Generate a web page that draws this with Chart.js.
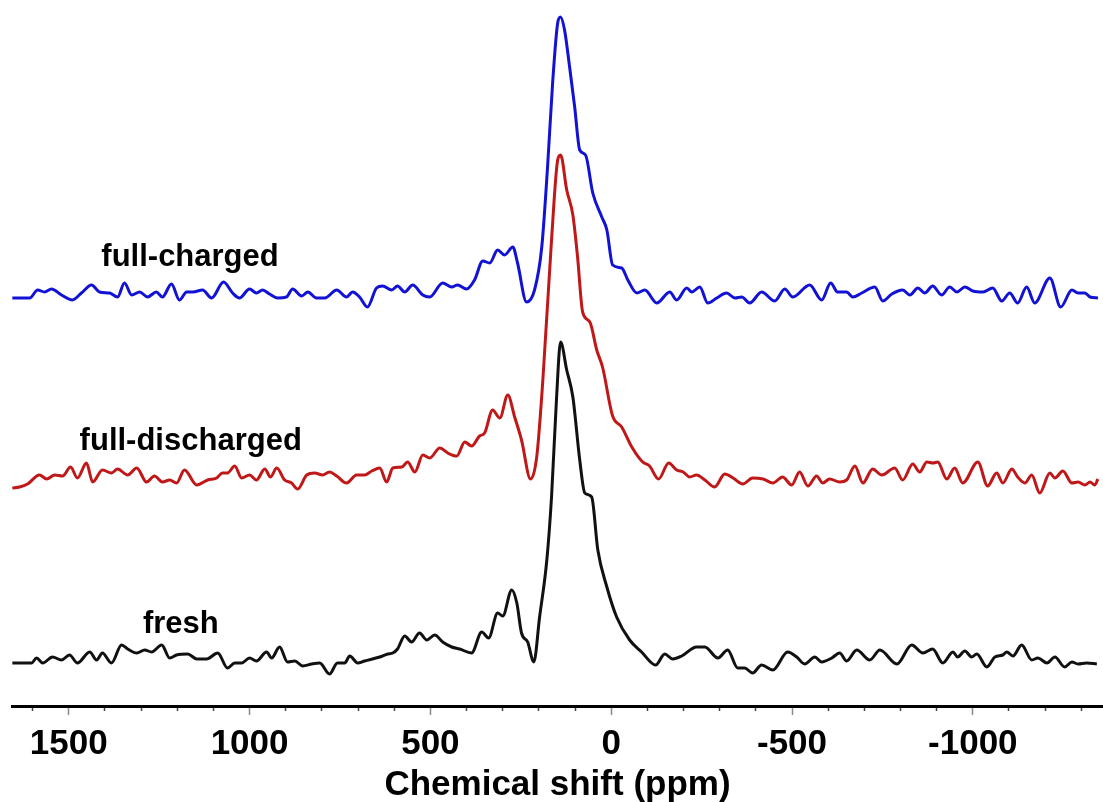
<!DOCTYPE html>
<html lang="en">
<head>
<meta charset="UTF-8">
<title>Chemical shift spectra</title>
<script src="https://cdn.jsdelivr.net/npm/chart.js"></script>
<style>
  html, body { margin: 0; padding: 0; background: #fff; }
  canvas { display: block; }
</style>
</head>
<body>
<canvas id="nmrChart" width="1103" height="802"></canvas>
<script>
// chemical shift (ppm) and baseline-corrected intensity
const chargedPpm = [1656,1608,1586,1567,1548,1520,1490,1465,1437,1415,1387,1365,1346,1326,1304,1282,1258,1241,1216,1194,1174,1157,1130,1105,1072,1047,1028,1000,981,964,945,922,898,881,856,839,815,792,759,732,715,696,674,649,632,607,591,571,549,521,502,466,441,425,400,378,355,336,314,295,272,259,234,212,192,176,162,148,140,129,115,101,87,71,51,26,12,-4,-29,-46,-71,-93,-126,-162,-181,-209,-223,-245,-267,-292,-319,-342,-361,-383,-416,-452,-480,-502,-549,-582,-607,-626,-651,-668,-693,-729,-751,-776,-806,-826,-848,-867,-889,-914,-936,-956,-978,-1000,-1028,-1055,-1080,-1102,-1124,-1149,-1171,-1213,-1243,-1274,-1291,-1310,-1324,-1346];
const chargedInt = [-1,-1,7,5,8,2,-3,4,12,5,4,0,14,2,5,0,5,0,13,-3,5,5,7,-1,15,4,-1,8,4,7,3,-1,0,8,1,5,-1,-1,7,0,5,0,-10,9,11,7,11,5,12,2,0,14,10,12,8,17,36,34,47,42,50,34,-5,7,50,130,214,274,280,267,230,190,147,142,104,80,67,32,29,17,4,7,-6,5,-3,9,5,10,-6,-1,4,-1,0,-6,5,-4,8,0,12,-3,14,5,5,0,4,10,-4,3,7,2,9,4,11,2,10,5,10,6,5,9,-4,4,-6,10,-6,19,-10,7,4,4,0,-1];

const dischargedPpm = [1656,1636,1614,1581,1561,1539,1517,1495,1476,1451,1434,1407,1382,1365,1337,1312,1285,1263,1241,1221,1202,1180,1146,1116,1091,1075,1061,1041,1022,1000,981,958,942,925,903,884,867,842,820,798,779,759,732,704,682,662,640,621,604,579,563,543,521,502,474,452,427,405,386,364,350,328,308,286,267,248,223,206,189,165,148,140,123,106,93,79,59,40,24,-4,-29,-57,-87,-106,-131,-159,-181,-199,-217,-236,-259,-286,-314,-337,-364,-391,-420,-447,-474,-499,-521,-544,-568,-585,-604,-632,-651,-674,-696,-723,-748,-784,-806,-834,-853,-873,-890,-903,-928,-950,-972,-1014,-1041,-1066,-1083,-1108,-1124,-1144,-1163,-1185,-1213,-1227,-1249,-1274,-1291,-1310,-1324,-1337,-1346];
const dischargedInt = [-3,-2,1,10,6,10,9,18,7,22,3,15,12,16,10,17,3,9,3,5,2,15,0,5,7,12,12,19,7,10,5,16,8,17,5,2,-4,10,12,10,13,9,2,10,10,14,17,3,17,18,23,13,30,27,37,32,29,43,39,49,52,75,67,90,68,45,6,28,105,245,325,330,295,270,228,173,163,135,118,69,58,38,23,19,6,22,15,13,8,10,5,-2,11,7,1,7,6,2,8,0,13,-1,9,2,6,3,5,19,2,16,10,17,5,21,13,23,22,23,6,17,2,23,-1,12,2,16,8,2,10,-8,12,7,14,2,3,0,3,0,6];

const freshPpm = [1656,1628,1603,1589,1572,1545,1520,1498,1476,1442,1423,1407,1382,1354,1337,1312,1290,1271,1243,1221,1202,1171,1146,1119,1088,1061,1041,1022,1000,981,953,939,917,895,875,853,828,806,779,757,737,723,701,682,640,618,604,591,571,552,530,510,488,466,441,419,386,358,339,314,300,275,261,248,231,214,198,178,165,151,140,123,106,87,73,54,37,12,-15,-51,-84,-123,-148,-170,-195,-236,-259,-295,-322,-350,-369,-391,-416,-447,-488,-513,-535,-563,-582,-610,-632,-651,-679,-715,-743,-790,-831,-862,-889,-917,-945,-958,-978,-997,-1011,-1039,-1061,-1083,-1094,-1111,-1135,-1163,-1180,-1205,-1227,-1254,-1274,-1291,-1315,-1343];
const freshInt = [-1,-1,-1,4,-1,5,2,7,-1,10,2,9,-1,17,13,9,12,10,17,4,7,8,3,3,9,-6,-1,-1,4,1,10,4,15,0,1,-4,-2,-1,-12,-1,-1,6,-1,1,5,8,9,13,26,20,29,22,27,20,15,13,9,30,24,49,46,72,59,29,20,0,45,102,165,265,320,292,265,202,169,165,112,75,45,22,10,-3,8,3,6,15,15,4,12,-6,-6,-11,-3,-8,10,5,-2,5,0,4,9,1,12,2,12,-2,17,9,13,-1,10,5,11,5,8,-5,5,7,10,6,17,2,4,-1,5,-5,0,-2,-1,-2];

// vertical stacking of the three spectra
const seriesNames = ['full-charged', 'full-discharged', 'fresh'];
const seriesOffsets = [409, 221, 44];
const seriesColors = ['#1212d4', '#c01818', '#111111'];

// tick labels shown on the shift axis
const majorTicks = [1500, 1000, 500, 0, -500, -1000];

const FONT = "'Liberation Sans', Arial, sans-serif";

function toPoints(ppm, inten, offset) {
    return ppm.map((x, i) => ({ x: x, y: inten[i] + offset }));
}

const spectra = [
    toPoints(chargedPpm, chargedInt, seriesOffsets[0]),
    toPoints(dischargedPpm, dischargedInt, seriesOffsets[1]),
    toPoints(freshPpm, freshInt, seriesOffsets[2])
];

// text labels next to each trace, anchored in data units
const traceLabels = {
    id: 'traceLabels',
    afterDatasetsDraw(chart, args, opts) {
        const ctx = chart.ctx;
        const xs = chart.scales.x, ys = chart.scales.y;
        ctx.save();
        ctx.font = 'bold 31px ' + FONT;
        ctx.fillStyle = '#000';
        ctx.textAlign = 'left';
        ctx.textBaseline = 'alphabetic';
        opts.items.forEach(it => {
            ctx.fillText(it.text, xs.getPixelForValue(it.ppm), ys.getPixelForValue(it.y));
        });
        ctx.restore();
    }
};

const isMajor = v => majorTicks.includes(v);

new Chart(document.getElementById('nmrChart'), {
    type: 'line',
    data: {
        datasets: spectra.map((pts, i) => ({
            label: seriesNames[i],
            data: pts,
            borderColor: seriesColors[i],
            borderWidth: 3,
            pointRadius: 0,
            fill: false,
            cubicInterpolationMode: 'monotone'
        }))
    },
    options: {
        responsive: false,
        animation: false,
        layout: { padding: { left: 12, right: 0, top: 0, bottom: 0 } },
        plugins: {
            legend: { display: false },
            tooltip: { enabled: false },
            traceLabels: {
                items: [
                    { text: seriesNames[0], ppm: 1410, y: 440 },
                    { text: seriesNames[1], ppm: 1470, y: 256 },
                    { text: seriesNames[2], ppm: 1295, y: 73 }
                ]
            }
        },
        scales: {
            x: {
                type: 'linear',
                reverse: true,
                min: -1360,
                max: 1657,
                afterFit: scale => { scale.height = 96; },
                border: { display: true, color: '#000', width: 3 },
                grid: {
                    drawOnChartArea: false,
                    drawTicks: true,
                    tickLength: 9,
                    tickColor: c => isMajor(c.tick && c.tick.value) ? '#8a8a8a' : '#444',
                    tickWidth: 1.5,
                    tickBorderDash: c => isMajor(c.tick && c.tick.value) ? [] : [3, 30]
                },
                ticks: {
                    stepSize: 100,
                    includeBounds: false,
                    autoSkip: false,
                    maxRotation: 0,
                    padding: 8,
                    color: '#000',
                    font: { family: FONT, size: 35, weight: 'bold' },
                    callback: v => isMajor(v) ? String(v) : ''
                },
                title: {
                    display: true,
                    text: 'Chemical shift (ppm)',
                    color: '#000',
                    font: { family: FONT, size: 35, weight: 'bold' },
                    padding: { top: 0, bottom: -4 }
                }
            },
            y: {
                display: false,
                min: 0,
                max: 706
            }
        }
    },
    plugins: [traceLabels]
});
</script>
</body>
</html>
